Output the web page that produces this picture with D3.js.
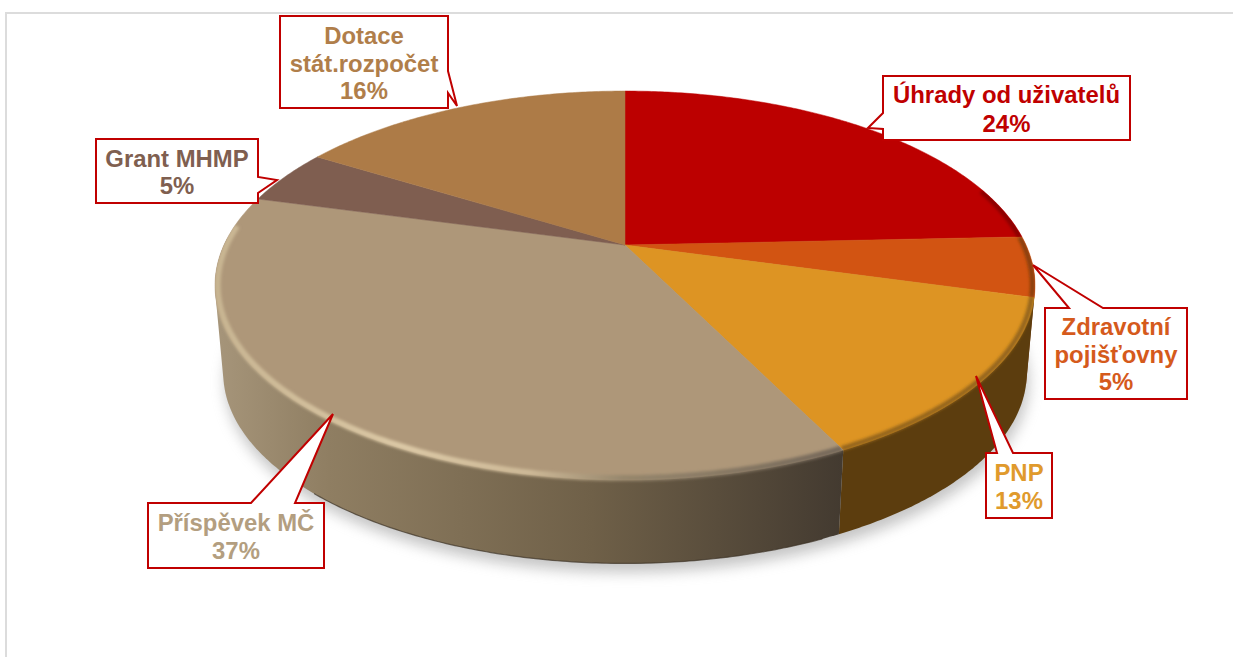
<!DOCTYPE html>
<html>
<head>
<meta charset="utf-8">
<script src="https://cdn.jsdelivr.net/npm/d3@7"></script>
<style>
	html, body { margin: 0; padding: 0; background: #fff; overflow: hidden; }
	svg { display: block; }
	text { font-family: "Liberation Sans", Arial, sans-serif; font-weight: 700; font-size: 23.9px; text-anchor: middle; }
</style>
</head>
<body>
<div id="chart"></div>
<script>
var categories = ["Úhrady od uživatelů", "Zdravotní pojišťovny", "PNP", "Příspěvek MČ", "Grant MHMP", "Dotace stát.rozpočet"];
var shares = [24.3, 5, 13.4, 36.5, 4.6, 16.2];
var percentLabels = ["24%", "5%", "13%", "37%", "5%", "16%"];

var labelLines = [
	["Úhrady od uživatelů"],
	["Zdravotní", "pojišťovny"],
	["PNP"],
	["Příspěvek MČ"],
	["Grant MHMP"],
	["Dotace", "stát.rozpočet"]
];

var sliceColors = ["#bc0000", "#d25412", "#dd9423", "#ae9779", "#7f5e50", "#ad7b47"];
var labelColors = ["#c00000", "#d55a1c", "#e09a2c", "#b39e80", "#7f5f50", "#b07e4a"];
var sideColors = ["#700000", "#7a3a0c", "#5c3d0e", "url(#sideTan)", "#5a4238", "#7a5630"];
var rimColors = ["#8a0000", "#8a3f0f", "#94651a", "url(#rimTan)", null, null];

// callout boxes, pointer base and tip, in page pixels
var callouts = [
	{ box: [883, 76, 1130, 140], base: [[883, 113], [883, 129]], tip: [868, 128], lines: [103, 132] },
	{ box: [1045, 308, 1187, 399], base: [[1069, 308], [1103, 308]], tip: [1033, 265], lines: [335, 363, 390] },
	{ box: [986, 453, 1052, 518], base: [[997, 453], [1013, 453]], tip: [976, 376], lines: [481, 509] },
	{ box: [148, 503, 324, 568], base: [[251, 503], [295, 503]], tip: [333, 414], lines: [531, 559] },
	{ box: [96, 139, 258, 203], base: [[258, 177], [258, 193]], tip: [277, 180], lines: [167, 194] },
	{ box: [280, 16, 448, 108], base: [[448, 71], [448, 93]], tip: [457, 106], lines: [44, 72, 99] }
];

var WIDTH = 1233;
var HEIGHT = 657;

var PIE = {
	cx: 625,
	cy: 245,
	radius: 401,
	tiltY: 186,
	perspective: 0.208,
	depth: 88.3,
	baseScale: 0.98
};

var DEG = Math.PI / 180;

var svg = d3.select("#chart").append("svg")
	.attr("width", WIDTH)
	.attr("height", HEIGHT);

var defs = svg.append("defs");

function addBlur(id, amount) {
	defs.append("filter")
		.attr("id", id)
		.attr("filterUnits", "userSpaceOnUse")
		.attr("x", 0).attr("y", 0)
		.attr("width", WIDTH).attr("height", HEIGHT)
		.append("feGaussianBlur")
		.attr("stdDeviation", amount);
}

function addGradient(id, x1, x2, stops) {
	var g = defs.append("linearGradient")
		.attr("id", id)
		.attr("gradientUnits", "userSpaceOnUse")
		.attr("x1", x1).attr("x2", x2)
		.attr("y1", 0).attr("y2", 0);

	stops.forEach(function (s) {
		g.append("stop").attr("offset", s[0]).attr("stop-color", s[1]);
	});
}

addBlur("shadowBlur", 7);
addBlur("rimBlur", 1.8);

addGradient("sideTan", 216, 843, [
	[0, "#a6957a"],
	[0.18, "#8f7e62"],
	[0.6, "#6f6048"],
	[1, "#433a30"]
]);

addGradient("rimTan", 216, 843, [
	[0, "#c8b592"],
	[0.3, "#dcc9a6"],
	[0.5, "#cdb997"],
	[0.65, "#96866c"],
	[1, "#75685a"]
]);

/**
 * Perspective projection of a point on the unit disc, angle clockwise from 12 o'clock
 */
function project(angle, r, isBase) {
	var u = r * Math.sin(angle);
	var v = -r * Math.cos(angle);
	var w = 1 - PIE.perspective * v;
	var x = PIE.radius * u / w;
	var y = PIE.tiltY * v / w;

	if (isBase) {
		return [PIE.cx + PIE.baseScale * x, PIE.cy + PIE.baseScale * y + PIE.depth];
	}
	return [PIE.cx + x, PIE.cy + y];
}

function arcPoints(a0, a1, isBase, r) {
	var steps = Math.max(2, Math.ceil(Math.abs(a1 - a0) / 0.01));
	return d3.range(steps + 1).map(function (i) {
		return project(a0 + (a1 - a0) * i / steps, r || 1, isBase);
	});
}

var line = d3.line();

var arcs = d3.pie()
	.sort(null)
	.value(function (d) { return d; })
	.startAngle(0)
	.endAngle(2 * Math.PI)(shares);

// only this part of the wall can be seen from the front
var wallStart = 95 * DEG;
var wallEnd = 272 * DEG;

function slicePath(d) {
	return line([project(0, 0, false)].concat(arcPoints(d.startAngle, d.endAngle, false))) + "Z";
}

function sidePath(d) {
	var a0 = Math.max(d.startAngle, wallStart);
	var a1 = Math.min(d.endAngle, wallEnd);
	if (a1 <= a0) return "";
	var top = arcPoints(a0, a1, false);
	var base = arcPoints(a0, a1, true);
	return line(d3.polygonHull(top.concat(base))) + "Z";
}

// page frame
svg.append("path")
	.attr("d", line([[6, HEIGHT], [6, 13], [WIDTH, 13]]))
	.attr("fill", "none")
	.attr("stroke", "#dcdcdc")
	.attr("stroke-width", 2);

// soft shadow under the pie
svg.append("path")
	.attr("d", line(arcPoints(0, 2 * Math.PI, true)) + "Z")
	.attr("transform", "translate(2,9)")
	.attr("fill", "#8c8c8c")
	.attr("opacity", 0.5)
	.attr("filter", "url(#shadowBlur)");

// side wall
svg.append("g").selectAll("path")
	.data(arcs)
	.join("path")
	.attr("d", sidePath)
	.attr("fill", function (d, i) { return sideColors[i]; });

// dark lower edge of the wall, front part only
svg.append("path")
	.attr("d", line(arcPoints(156 * DEG, 222 * DEG, true)))
	.attr("fill", "none")
	.attr("stroke", "#3e3528")
	.attr("stroke-opacity", 0.7)
	.attr("stroke-width", 1.2);

// top face
svg.append("g").selectAll("path")
	.data(arcs)
	.join("path")
	.attr("d", slicePath)
	.attr("fill", function (d, i) { return sliceColors[i]; })
	.attr("stroke", function (d, i) { return sliceColors[i]; })
	.attr("stroke-width", 0.5);

// bevel along the front rim, clipped to each slice and its wall
var rimStart = 72 * DEG;
var rimEnd = 276 * DEG;

arcs.forEach(function (d, i) {
	if (!rimColors[i]) return;

	var clip = defs.append("clipPath").attr("id", "sliceClip" + i);
	clip.append("path").attr("d", slicePath(d));
	clip.append("path").attr("d", sidePath(d));

	var a0 = Math.max(d.startAngle, rimStart);
	var a1 = Math.min(d.endAngle, rimEnd);

	svg.append("g")
		.attr("clip-path", "url(#sliceClip" + i + ")")
		.append("path")
		.attr("d", line(arcPoints(a0, a1, false, 0.994)))
		.attr("fill", "none")
		.attr("stroke", rimColors[i])
		.attr("stroke-width", i === 3 ? 6 : 5)
		.attr("filter", "url(#rimBlur)");
});

// callouts
var labels = svg.append("g").selectAll("g")
	.data(callouts)
	.join("g");

labels.append("path")
	.attr("d", function (c) {
		var x0 = c.box[0], y0 = c.box[1], x1 = c.box[2], y1 = c.box[3];
		var pointer = [c.base[0], c.tip, c.base[1]];
		var points;

		if (c.base[0][1] === y0) {
			// pointer on the top edge
			points = [[x0, y0]].concat(pointer, [[x1, y0], [x1, y1], [x0, y1]]);
		} else if (c.base[0][0] === x1) {
			// pointer on the right edge
			points = [[x0, y0], [x1, y0]].concat(pointer, [[x1, y1], [x0, y1]]);
		} else {
			// pointer on the left edge
			points = [[x0, y0], [x1, y0], [x1, y1], [x0, y1]].concat(pointer.slice().reverse());
		}
		return line(points) + "Z";
	})
	.attr("fill", "#fff")
	.attr("stroke", "#c00000")
	.attr("stroke-width", 2)
	.attr("stroke-linejoin", "miter");

labels.each(function (c, i) {
	var rows = labelLines[i].concat(percentLabels[i]);
	var cx = (c.box[0] + c.box[2]) / 2;

	d3.select(this).selectAll("text")
		.data(rows)
		.join("text")
		.attr("x", cx)
		.attr("y", function (d, j) { return c.lines[j]; })
		.attr("fill", labelColors[i])
		.text(function (d) { return d; });
});
</script>
</body>
</html>
